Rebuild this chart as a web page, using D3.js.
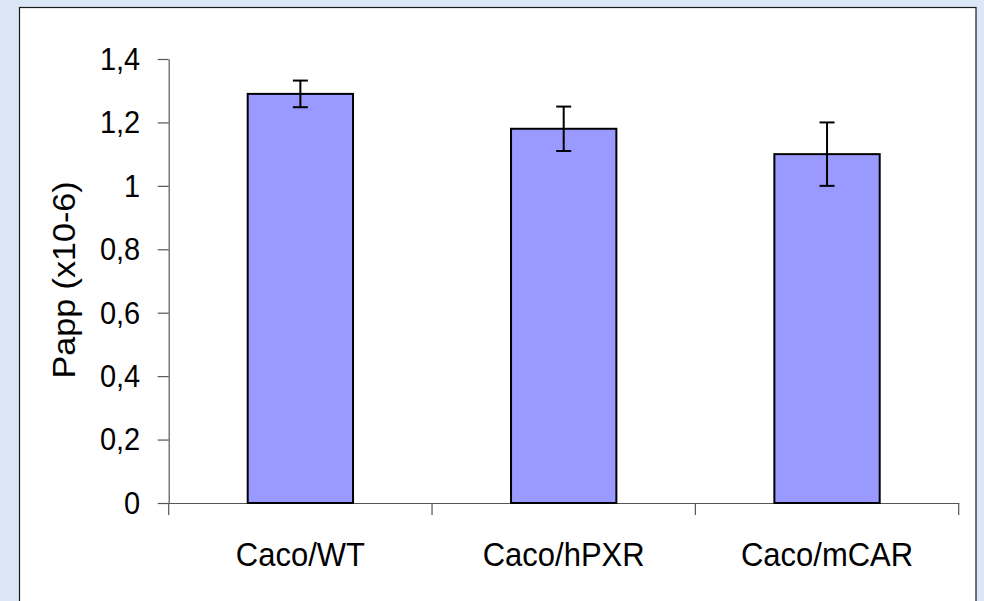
<!DOCTYPE html>
<html>
<head>
<meta charset="utf-8">
<script src="https://cdn.jsdelivr.net/npm/d3@7"></script>
<style>
  body { margin: 0; background: #dbe7f7; }
  svg { display: block; }
  text { font-family: Arial, "Liberation Sans", sans-serif; fill: #000; }
</style>
</head>
<body>
<script>
var categories = ['Caco/WT', 'Caco/hPXR', 'Caco/mCAR'];
var values = [1.29, 1.18, 1.10];
var errors = [0.042, 0.07, 0.10];
var yTicks = [0, 0.2, 0.4, 0.6, 0.8, 1, 1.2, 1.4];
var yTickLabels = ['0', '0,2', '0,4', '0,6', '0,8', '1', '1,2', '1,4'];

var width = 984;
var height = 601;
var plot = { left: 168.7, right: 958.7, top: 59, bottom: 503 };
var stretch = 1.1; // text in the picture is a bit taller than wide

var svg = d3.select('body')
            .append('svg')
            .attr('width', width)
            .attr('height', height);

// white panel on the blue background
svg.append('rect')
    .attr('x', 19.5)
    .attr('y', 7.5)
    .attr('width', 956.5)
    .attr('height', 620)
    .attr('fill', '#fff')
    .attr('stroke', '#1a1a1a')
    .attr('stroke-width', 1.2);

var xScale = d3.scaleBand()
                .domain(categories)
                .range([plot.left, plot.right])
                .padding(0);

var barScale = d3.scaleBand()
                .domain(categories)
                .range([plot.left, plot.right])
                .paddingInner(0.6)
                .paddingOuter(0.3);

var yScale = d3.scaleLinear()
                .domain([0, 1.4])
                .range([plot.bottom, plot.top]);

var data = categories.map(function (c, i) {
  return { name: c, value: values[i], err: errors[i] };
});

// y axis
var yAxis = svg.append('g')
    .attr('transform', `translate(${plot.left},0)`)
    .call(d3.axisLeft(yScale)
            .tickValues(yTicks)
            .tickFormat(function (d, i) { return yTickLabels[i]; })
            .tickSize(11)
            .tickSizeOuter(0));

yAxis.selectAll('text')
    .attr('x', 0)
    .attr('dy', 0)
    .attr('text-anchor', 'end')
    .attr('transform', `translate(-28.5,10.3) scale(1,${stretch})`)
    .style('font-size', '29px');

// x axis labels (centered in each category)
var xAxis = svg.append('g')
    .attr('transform', `translate(0,${plot.bottom})`)
    .call(d3.axisBottom(xScale).tickSize(0).tickSizeOuter(0));

xAxis.selectAll('text')
    .attr('y', 0)
    .attr('dy', 0)
    .attr('transform', `translate(0,62.7) scale(1,${stretch})`)
    .style('font-size', '31px');

// category boundary ticks
var bounds = categories.map(function (c) { return xScale(c); }).concat([plot.right]);
xAxis.selectAll('.bound')
    .data(bounds)
    .enter()
    .append('line')
    .attr('class', 'bound')
    .attr('x1', function (d) { return d; })
    .attr('x2', function (d) { return d; })
    .attr('y1', 0)
    .attr('y2', 12);

svg.selectAll('.domain, .tick line, .bound')
    .attr('stroke', '#555')
    .attr('stroke-width', 1.2);

// bars
svg.selectAll('rect.bar')
    .data(data)
    .enter()
    .append('rect')
    .attr('class', 'bar')
    .attr('x', function (d) { return barScale(d.name); })
    .attr('width', barScale.bandwidth())
    .attr('y', function (d) { return yScale(d.value); })
    .attr('height', function (d) { return yScale(0) - yScale(d.value); })
    .attr('fill', '#9999ff')
    .attr('stroke', '#000')
    .attr('stroke-width', 2);

// error bars
var cap = 7.5;
var errG = svg.selectAll('g.err')
    .data(data)
    .enter()
    .append('g')
    .attr('class', 'err')
    .attr('stroke', '#000')
    .attr('stroke-width', 2);

function cx(d) { return barScale(d.name) + barScale.bandwidth() / 2; }

errG.append('line')
    .attr('x1', cx).attr('x2', cx)
    .attr('y1', function (d) { return yScale(d.value + d.err); })
    .attr('y2', function (d) { return yScale(d.value - d.err); });

errG.selectAll('line.cap')
    .data(function (d) { return [d.value + d.err, d.value - d.err].map(function (v) { return { x: cx(d), v: v }; }); })
    .enter()
    .append('line')
    .attr('class', 'cap')
    .attr('x1', function (d) { return d.x - cap; })
    .attr('x2', function (d) { return d.x + cap; })
    .attr('y1', function (d) { return yScale(d.v); })
    .attr('y2', function (d) { return yScale(d.v); });

// y axis title
svg.append('text')
    .attr('text-anchor', 'middle')
    .attr('transform', `translate(75,280) scale(1,${stretch}) rotate(-90)`)
    .style('font-size', '31px')
    .text('Papp (x10-6)');
</script>
</body>
</html>
